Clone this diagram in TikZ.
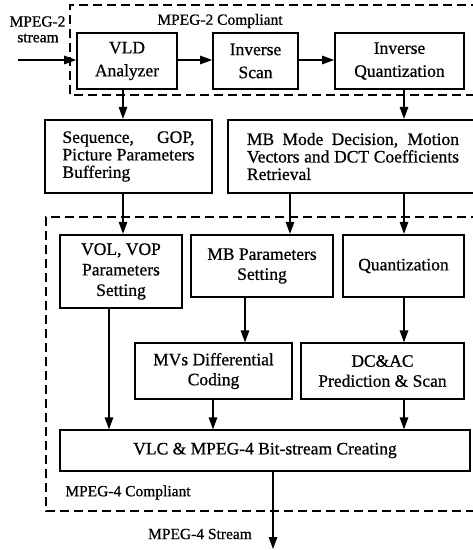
\documentclass[tikz,border=0pt]{standalone}
\usepackage{fontspec}
\setmainfont{Liberation Serif}
\newfontfamily\heavyserif{Liberation Serif}[FakeBold=0.7]
\usetikzlibrary{arrows.meta}
\newcommand\bxf[1]{\heavyserif\fontsize{17.5}{#1}\selectfont}
\newcommand\bxfont{\bxf{20pt}}
\newcommand\lbfont{\heavyserif\fontsize{15.5}{18}\selectfont}
\begin{document}
\begin{tikzpicture}[x=1pt,y=-1pt,
  basebox/.style={draw, inner sep=0pt, align=center, font=\bxfont},
  thickbox/.style={basebox, line width=2.2pt},
  midbox/.style={basebox, line width=1.7pt},
  thinbox/.style={basebox, line width=1.3pt},
  arr/.style={line width=1.3pt, -{Triangle[length=12pt,width=8.5pt]}},
  dashbox/.style={line width=1.6pt, dash pattern=on 9pt off 5pt},
  lbl/.style={font=\lbfont, inner sep=0pt}]
\clip (0,0) rectangle (473,550);
% dashed regions
\draw[dashbox] (480,5) -- (70,5) -- (70,95) -- (480,95);
\draw[dashbox] (480,217) -- (46,217) -- (46,511) -- (480,511);
% boxes
\node[midbox, minimum width=100pt, minimum height=56pt, font={\bxf{23pt}}] (vld) at (127,61) {VLD\\Analyzer};
\node[midbox, minimum width=85pt, minimum height=56pt, font={\bxf{23pt}}] (is) at (255.5,61) {Inverse\\Scan};
\node[midbox, minimum width=129pt, minimum height=56pt, font={\bxf{23pt}}] (iq) at (399.5,61) {Inverse\\Quantization};
\node[thickbox, minimum width=167pt, minimum height=73pt, align=left, font={\bxf{17.5pt}}] (seq) at (128.5,156.5)
  {\makebox[132pt][s]{Sequence, GOP,}\\\makebox[132pt][s]{Picture Parameters}\\Buffering};
\node[thickbox, minimum width=250pt, minimum height=73pt, align=left, font={\bxf{17.5pt}}] (mbm) at (353,156.5)
  {\makebox[212pt][s]{MB Mode Decision, Motion}\\\makebox[212pt][s]{Vectors and DCT Coefficients}\\Retrieval};
\node[thickbox, minimum width=122pt, minimum height=73pt, font={\bxf{20.5pt}}] (vol) at (121,271.5) {VOL, VOP\\Parameters\\Setting};
\node[thickbox, minimum width=142pt, minimum height=62pt] (mbp) at (262,266) {MB Parameters\\Setting};
\node[thickbox, minimum width=121pt, minimum height=62pt] (quant) at (403.5,266) {Quantization};
\node[thinbox, minimum width=157pt, minimum height=56pt] (mvs) at (213.5,371) {MVs Differential\\Coding};
\node[thinbox, minimum width=163pt, minimum height=56pt] (dc) at (382.5,371) {DC\&AC\\Prediction \& Scan};
\node[thinbox, minimum width=410pt, minimum height=41pt] (vlc) at (265,450.5) {VLC \& MPEG-4 Bit-stream Creating};
% labels
\node[lbl] (l2) at (220,21) {MPEG-2 Compliant};
\node[lbl] (s2a) at (37.5,21.5) {MPEG-2};
\node[lbl] (s2b) at (38,38) {stream};
\node[lbl] (l4) at (128,492.5) {MPEG-4 Compliant};
\node[lbl] (s4) at (200,534) {MPEG-4 Stream};
% guide coordinates
\coordinate (in) at (18,60);
\coordinate (out) at (273,549);
\coordinate (xa) at (123,0);
\coordinate (xq) at (404,0);
\coordinate (xb) at (290,0);
\coordinate (xc) at (245,0);
\coordinate (xd) at (213,0);
\coordinate (xe) at (109,0);
% connectors
\draw[arr] (in) -- (in -| vld.west);
\draw[arr] (vld.east |- in) -- (is.west |- in);
\draw[arr] (is.east |- in) -- (iq.west |- in);
\draw[arr] (vld.south -| xa) -- (seq.north -| xa);
\draw[arr] (seq.south -| xa) -- (vol.north -| xa);
\draw[arr] (iq.south -| xq) -- (mbm.north -| xq);
\draw[arr] (mbm.south -| xq) -- (quant.north -| xq);
\draw[arr] (quant.south -| xq) -- (dc.north -| xq);
\draw[arr] (dc.south -| xq) -- (vlc.north -| xq);
\draw[arr] (mbm.south -| xb) -- (mbp.north -| xb);
\draw[arr] (mbp.south -| xc) -- (mvs.north -| xc);
\draw[arr] (mvs.south -| xd) -- (vlc.north -| xd);
\draw[arr] (vol.south -| xe) -- (vlc.north -| xe);
\draw[arr] (vlc.south -| out) -- (out);
\end{tikzpicture}
\end{document}
